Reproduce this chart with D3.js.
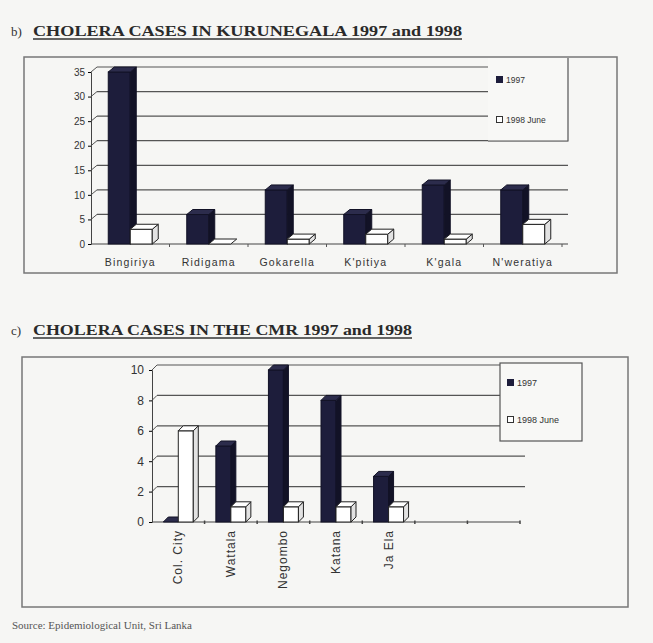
<!DOCTYPE html>
<html>
<head>
<meta charset="utf-8">
<script src="https://cdn.jsdelivr.net/npm/d3@7"></script>
<style>
  body { margin: 0; background: #f6f6f4; }
  svg { display: block; }
</style>
</head>
<body>
<svg></svg>
<script>

// b) Kurunegala
var kurCats = ["Bingiriya", "Ridigama", "Gokarella", "K'pitiya", "K'gala", "N'weratiya"];
var kur1997 = [35, 6, 11, 6, 12, 11];
var kur1998 = [3, 0, 1, 2, 1, 4];
var kurTicks = [0, 5, 10, 15, 20, 25, 30, 35];

// c) CMR (axis has 7 slots, last two empty)
var cmrCats = ["Col. City", "Wattala", "Negombo", "Katana", "Ja Ela", "", ""];
var cmr1997 = [0, 5, 10, 8, 3];
var cmr1998 = [6, 1, 1, 1, 1];
var cmrTicks = [0, 2, 4, 6, 8, 10];

var seriesNames = ["1997", "1998 June"];

var width = 653, height = 643;

var svg = d3.select('svg')
    .attr('width', width)
    .attr("height", height);

svg.append("rect")
    .attr("width", "100%")
    .attr("height", "100%")
    .attr("fill", "#f6f6f4");

var dark = "#1d1d3b", darkTop = "#2c2c4c", darkSide = "#121226";

function bar3d(g, x, w, yTop, yBase, dx, dy, isDark) {
    var st = isDark ? darkSide : "#222";
    if (yBase - yTop > 0.5) {
        g.append("rect")
            .attr("x", x).attr("y", yTop)
            .attr("width", w).attr("height", yBase - yTop)
            .attr("fill", isDark ? dark : "#ffffff")
            .attr("stroke", st).attr("stroke-width", 1);
        g.append("path")
            .attr("d", "M" + (x + w) + "," + yTop + "L" + (x + w + dx) + "," + (yTop - dy) +
                "L" + (x + w + dx) + "," + (yBase - dy) + "L" + (x + w) + "," + yBase + "Z")
            .attr("fill", isDark ? darkSide : "#e2e2e2")
            .attr("stroke", st).attr("stroke-width", 1);
    }
    g.append("path")
        .attr("d", "M" + x + "," + yTop + "L" + (x + dx) + "," + (yTop - dy) +
            "L" + (x + w + dx) + "," + (yTop - dy) + "L" + (x + w) + "," + yTop + "Z")
        .attr("fill", isDark ? darkTop : "#ffffff")
        .attr("stroke", st).attr("stroke-width", 1);
}

function title(y, tag, txt, len) {
    svg.append("text")
        .attr("x", 11).attr("y", y)
        .style("font-family", "Liberation Serif")
        .style("font-size", "13px")
        .attr("fill", "#333")
        .text(tag);
    svg.append("text")
        .attr("x", 33).attr("y", y)
        .attr("textLength", len)
        .attr("lengthAdjust", "spacingAndGlyphs")
        .style("font-family", "Liberation Serif")
        .style("font-weight", "bold")
        .style("font-size", "15px")
        .attr("fill", "#2a2a2a")
        .text(txt);
    svg.append("line")
        .attr("x1", 33).attr("x2", 33 + len)
        .attr("y1", y + 3).attr("y2", y + 3)
        .style("stroke", "#333").style("stroke-width", 1.3);
}

/* ---------- chart b ---------- */
title(36, "b)", "CHOLERA CASES IN KURUNEGALA 1997 and 1998", 429);

svg.append("rect")
    .attr("x", 24).attr("y", 57)
    .attr("width", 593).attr("height", 216)
    .attr("fill", "none")
    .style("stroke", "#777").style("stroke-width", 1.5);

var bDx = 6, bDy = 5;
var xB = d3.scaleBand().domain(kurCats).range([91, 562]);
var yB = d3.scaleLinear().domain([0, 35]).range([244, 72]);

var gB = svg.append("g");

// back wall gridlines
kurTicks.slice(1).forEach(function (t) {
    gB.append("line")
        .attr("x1", xB.range()[0] + bDx).attr("x2", xB.range()[1] + bDx)
        .attr("y1", yB(t) - bDy).attr("y2", yB(t) - bDy)
        .style("stroke", "#555").style("stroke-width", 1.2);
    gB.append("line")
        .attr("x1", xB.range()[0]).attr("x2", xB.range()[0] + bDx)
        .attr("y1", yB(t)).attr("y2", yB(t) - bDy)
        .style("stroke", "#555");
});

// floor baseline
gB.append("line")
    .attr("x1", xB.range()[0]).attr("x2", xB.range()[1] + bDx)
    .attr("y1", yB(0)).attr("y2", yB(0))
    .style("stroke", "#444").style("stroke-width", 1.2);
kurCats.forEach(function (c) {
    gB.append("line")
        .attr("x1", xB(c) + xB.bandwidth()).attr("x2", xB(c) + xB.bandwidth())
        .attr("y1", yB(0)).attr("y2", yB(0) + 3)
        .style("stroke", "#555");
});

// legend b
gB.append("rect")
    .attr("x", 488).attr("y", 58).attr("width", 80).attr("height", 83)
    .attr("fill", "#f8f8f6");
gB.append("path")
    .attr("d", "M568,58L568,141L488,141")
    .attr("fill", "none").style("stroke", "#555").style("stroke-width", 1.2);

// bars b
kurCats.forEach(function (c, i) {
    var cx = xB(c) + xB.bandwidth() / 2;
    var w = 22;
    bar3d(gB, cx - w, w, yB(kur1997[i]), yB(0), bDx, bDy, true);
    bar3d(gB, cx, w, yB(kur1998[i]), yB(0), bDx, bDy, false);
});

// y axis b
var axB = gB.append("g")
    .attr("transform", "translate(" + xB.range()[0] + ",0)")
    .call(d3.axisLeft(yB).tickValues(kurTicks).tickSize(3).tickPadding(3));
axB.select(".domain").style("stroke", "#444");
axB.selectAll("text")
    .style("font-family", "Liberation Sans")
    .style("font-size", "10px")
    .attr("fill", "#333");

// category labels b
gB.selectAll(".catB")
    .data(kurCats)
    .enter().append("text")
    .attr("x", function (d) { return xB(d) + xB.bandwidth() / 2; })
    .attr("y", 266)
    .attr("text-anchor", "middle")
    .style("font-family", "Liberation Sans")
    .style("font-size", "10.5px")
    .style("letter-spacing", "1.2px")
    .attr("fill", "#333")
    .text(function (d) { return d; });

function legendItems(g, x, y1, y2, fs) {
    g.append("rect").attr("x", x).attr("y", y1 - 7).attr("width", 7).attr("height", 7)
        .attr("fill", dark);
    g.append("text").attr("x", x + 10).attr("y", y1)
        .style("font-family", "Liberation Sans").style("font-size", fs)
        .attr("fill", "#333").text(seriesNames[0]);
    g.append("rect").attr("x", x + 0.5).attr("y", y2 - 6.5).attr("width", 6).attr("height", 6)
        .attr("fill", "#fff").style("stroke", "#333");
    g.append("text").attr("x", x + 10).attr("y", y2)
        .style("font-family", "Liberation Sans").style("font-size", fs)
        .attr("fill", "#333").text(seriesNames[1]);
}
legendItems(gB, 496, 83, 123, "8.5px");

/* ---------- chart c ---------- */
title(335, "c)", "CHOLERA CASES IN THE CMR 1997 and 1998", 379);

svg.append("rect")
    .attr("x", 22).attr("y", 357)
    .attr("width", 606).attr("height", 250)
    .attr("fill", "none")
    .style("stroke", "#777").style("stroke-width", 1.5);

var cDx = 5, cDy = 5;
var idx = d3.range(cmrCats.length);
var xC = d3.scaleBand().domain(idx).range([152, 520]);
var yC = d3.scaleLinear().domain([0, 10]).range([522, 370]);

var gC = svg.append("g");

cmrTicks.slice(1).forEach(function (t) {
    gC.append("line")
        .attr("x1", xC.range()[0] + cDx).attr("x2", xC.range()[1] + cDx)
        .attr("y1", yC(t) - cDy).attr("y2", yC(t) - cDy)
        .style("stroke", "#555").style("stroke-width", 1.2);
    gC.append("line")
        .attr("x1", xC.range()[0]).attr("x2", xC.range()[0] + cDx)
        .attr("y1", yC(t)).attr("y2", yC(t) - cDy)
        .style("stroke", "#555");
});

gC.append("line")
    .attr("x1", xC.range()[0]).attr("x2", xC.range()[1])
    .attr("y1", yC(0)).attr("y2", yC(0))
    .style("stroke", "#444").style("stroke-width", 1.2);
idx.forEach(function (i) {
    gC.append("line")
        .attr("x1", xC(i) + xC.bandwidth()).attr("x2", xC(i) + xC.bandwidth())
        .attr("y1", yC(0) - 1.5).attr("y2", yC(0) + 2)
        .style("stroke", "#444").style("stroke-width", 1.5);
});

// legend c
gC.append("rect")
    .attr("x", 500).attr("y", 363).attr("width", 82).attr("height", 78)
    .attr("fill", "#f8f8f6")
    .style("stroke", "#555").style("stroke-width", 1.2);
legendItems(gC, 507, 386, 423, "9px");

// bars c
cmr1997.forEach(function (v, i) {
    var cx = xC(i) + xC.bandwidth() / 2;
    var w = 15;
    bar3d(gC, cx - w, w, yC(v), yC(0), cDx, cDy, true);
    bar3d(gC, cx, w, yC(cmr1998[i]), yC(0), cDx, cDy, false);
});

var axC = gC.append("g")
    .attr("transform", "translate(" + xC.range()[0] + ",0)")
    .call(d3.axisLeft(yC).tickValues(cmrTicks).tickSize(3).tickPadding(5));
axC.select(".domain").style("stroke", "#444");
axC.selectAll("text")
    .style("font-family", "Liberation Sans")
    .style("font-size", "12px")
    .attr("fill", "#333");

gC.selectAll(".catC")
    .data(idx.filter(function (i) { return cmrCats[i] !== ""; }))
    .enter().append("text")
    .attr("transform", function (i) {
        return "translate(" + (xC(i) + xC.bandwidth() / 2 + 4) + ",530) rotate(-90)";
    })
    .attr("text-anchor", "end")
    .style("font-family", "Liberation Sans")
    .style("font-size", "12px")
    .style("letter-spacing", "1px")
    .attr("fill", "#333")
    .text(function (i) { return cmrCats[i]; });

// source
svg.append("text")
    .attr("x", 12).attr("y", 629)
    .style("font-family", "Liberation Serif")
    .style("font-size", "11px")
    .attr("fill", "#555")
    .text("Source: Epidemiological Unit, Sri Lanka");

</script>
</body>
</html>
